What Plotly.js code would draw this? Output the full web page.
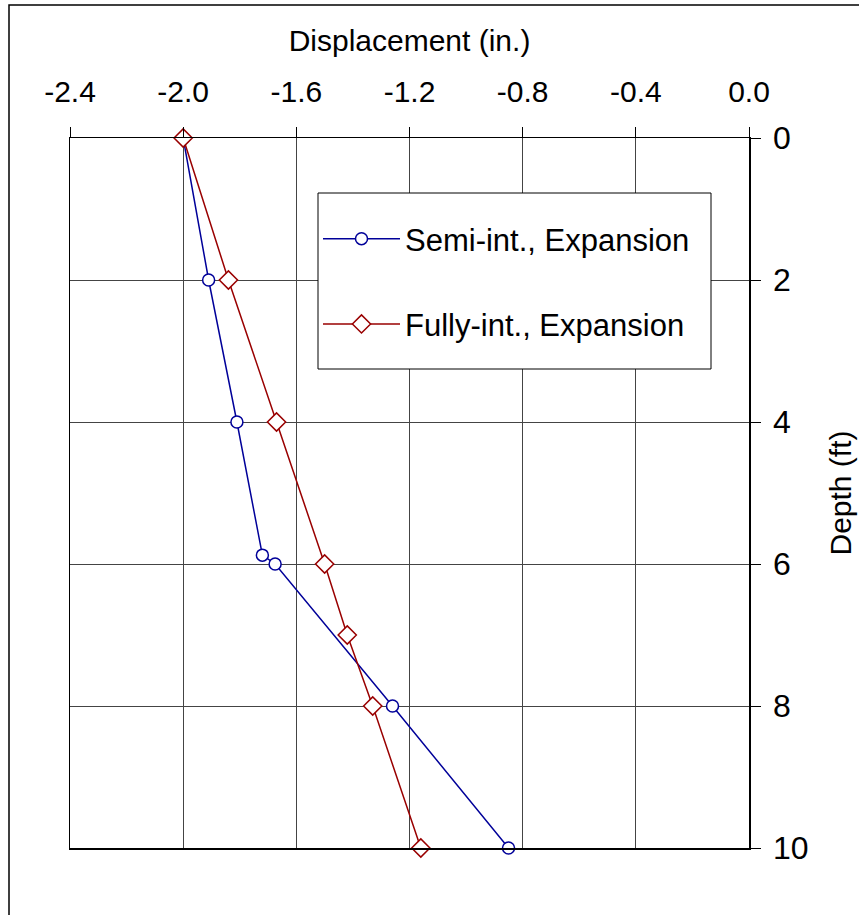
<!DOCTYPE html>
<html>
<head>
<meta charset="utf-8">
<script src="https://cdn.plot.ly/plotly-3.0.1.min.js"></script>
<style>
  html, body { margin: 0; padding: 0; background: #fff; }
  #chart { width: 859px; height: 915px; }
</style>
</head>
<body>
<div id="chart"></div>
<script>
// Data
const semiName = "Semi-int., Expansion";
const semiDisp = [-2.0, -1.91, -1.81, -1.72, -1.675, -1.26, -0.85];
const semiDepth = [0, 2, 4, 5.875, 6, 8, 10];

const fullyName = "Fully-int., Expansion";
const fullyDisp = [-2.0, -1.84, -1.67, -1.50, -1.42, -1.33, -1.16];
const fullyDepth = [0, 2, 4, 6, 7, 8, 10];

const xTickVals = [-2.4, -2.0, -1.6, -1.2, -0.8, -0.4, 0.0];
const xTickText = ["-2.4", "-2.0", "-1.6", "-1.2", "-0.8", "-0.4", "0.0"];
const yTickVals = [0, 2, 4, 6, 8, 10];
const yTickText = ["0", "2", "4", "6", "8", "10"];

const FONT = "Liberation Sans, Arial, sans-serif";
const blue = "#000099";
const red = "#990000";

const traces = [
  {
    x: semiDisp, y: semiDepth, name: semiName, type: "scatter", mode: "lines+markers",
    legendgroup: "a", cliponaxis: false,
    line: { color: blue, width: 1.5 },
    marker: { symbol: "circle", size: 12, color: "#ffffff", line: { color: blue, width: 1.5 } }
  },
  {
    x: fullyDisp, y: fullyDepth, name: fullyName, type: "scatter", mode: "lines+markers",
    legendgroup: "b", cliponaxis: false,
    line: { color: red, width: 1.5 },
    marker: { symbol: "diamond", size: 14, color: "#ffffff", line: { color: red, width: 1.5 } }
  }
];

const L = 70, R = 749, T = 138, B = 848;
const W = R - L, H = B - T;
function px2paperX(p) { return (p - L) / W; }
function px2paperY(p) { return (B - p) / H; }

const layout = {
  width: 859, height: 915,
  margin: { l: L, r: 859 - R, t: T, b: 915 - B, pad: 0 },
  paper_bgcolor: "#ffffff",
  plot_bgcolor: "#ffffff",
  font: { family: FONT, color: "#000" },
  showlegend: true,
  xaxis: {
    side: "top",
    range: [-2.4, 0.0],
    tickmode: "array",
    tickvals: xTickVals,
    ticktext: xTickText,
    ticks: "outside", ticklen: 10, tickcolor: "#000", tickwidth: 1,
    ticklabelstandoff: 13,
    tickfont: { size: 30, family: FONT },
    showgrid: true, gridcolor: "#444", gridwidth: 1,
    showline: true, linecolor: "#000", linewidth: 1.5, mirror: true,
    zeroline: false,
    title: { text: "Displacement (in.)", font: { size: 30, family: FONT }, standoff: 14 }
  },
  yaxis: {
    side: "right",
    range: [10, 0],
    tickmode: "array",
    tickvals: yTickVals,
    ticktext: yTickText,
    ticks: "outside", ticklen: 10, tickcolor: "#000", tickwidth: 1,
    ticklabelstandoff: 6,
    tickfont: { size: 32, family: FONT },
    showgrid: true, gridcolor: "#444", gridwidth: 1,
    showline: true, linecolor: "#000", linewidth: 1.5, mirror: true,
    zeroline: false,
    title: { text: "Depth (ft)", font: { size: 30, family: FONT }, standoff: 22 }
  },
  legend: {
    x: px2paperX(318), y: px2paperY(212), xanchor: "left", yanchor: "top",
    bgcolor: "rgba(0,0,0,0)", bordercolor: "rgba(0,0,0,0)", borderwidth: 0,
    font: { size: 31, family: FONT },
    traceorder: "grouped", tracegroupgap: 42,
    itemwidth: 77
  },
  shapes: [
    {
      type: "rect", xref: "paper", yref: "paper",
      x0: px2paperX(9), x1: px2paperX(900),
      y0: px2paperY(960), y1: px2paperY(5),
      line: { color: "#000", width: 1.5 }, fillcolor: "rgba(0,0,0,0)", layer: "below"
    },
    {
      type: "rect", xref: "paper", yref: "paper",
      x0: px2paperX(318), x1: px2paperX(711),
      y0: px2paperY(369), y1: px2paperY(193),
      line: { color: "#000", width: 1 }, fillcolor: "#ffffff", layer: "above"
    }
  ]
};

Plotly.newPlot("chart", traces, layout, { displayModeBar: false, staticPlot: true });
</script>
</body>
</html>
